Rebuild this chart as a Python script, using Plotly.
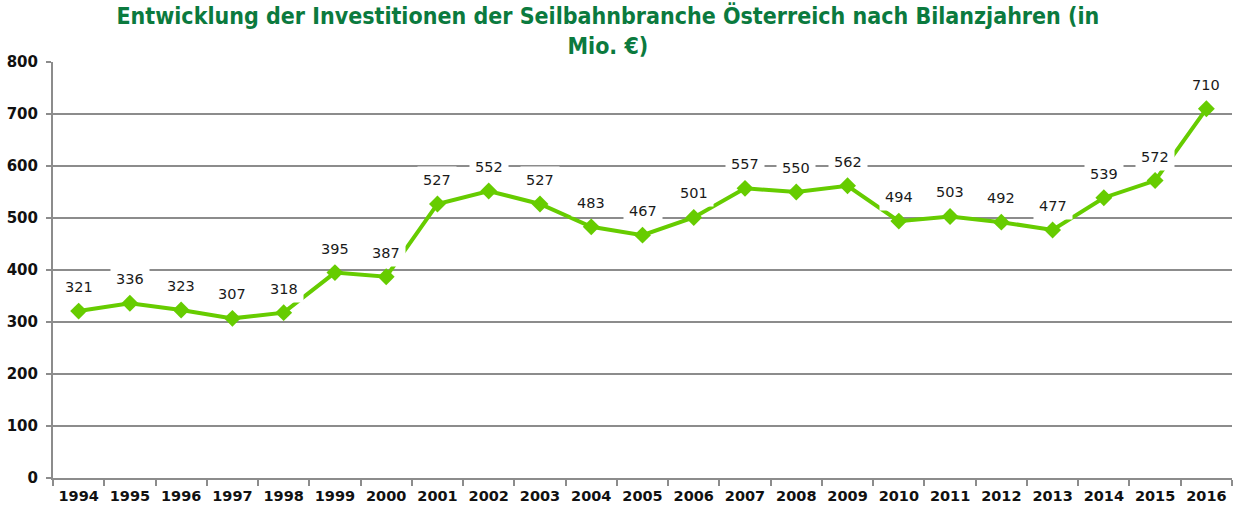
import plotly.graph_objects as go

years = [str(y) for y in range(1994, 2017)]
values = [321, 336, 323, 307, 318, 395, 387, 527, 552, 527, 483, 467, 501,
          557, 550, 562, 494, 503, 492, 477, 539, 572, 710]
y_ticks = [0, 100, 200, 300, 400, 500, 600, 700, 800]

title_text = "Entwicklung der Investitionen der Seilbahnbranche Österreich nach Bilanzjahren (in<br>Mio. €)"

green = "#66CC00"

fig = go.Figure()
fig.add_trace(go.Scatter(
    x=years, y=values, mode="lines+markers",
    line=dict(color=green, width=4),
    marker=dict(symbol="diamond", size=13, color=green),
    hoverinfo="x+y", showlegend=False,
))

annotations = []
for i, v in enumerate(values):
    annotations.append(dict(
        x=i, y=v, xref="x", yref="y", text=str(v), showarrow=False,
        yshift=24, bgcolor="white", borderpad=5,
        font=dict(family="DejaVu Sans, Verdana, sans-serif", size=14.5, color="#1a1a1a"),
    ))

fig.update_layout(
    width=1233, height=508,
    margin=dict(l=53, r=1, t=62, b=30),
    paper_bgcolor="white", plot_bgcolor="white",
    title=dict(
        text=title_text, x=0.493, xanchor="center", y=0.953, yanchor="top",
        font=dict(family="DejaVu Sans Condensed, DejaVu Sans, sans-serif", size=23, color="#0B7A3E", weight="bold"),
    ),
    annotations=annotations,
    xaxis=dict(
        type="category", showgrid=False, showline=True, linecolor="#8c8c8c", linewidth=2,
        ticks="outside", ticklen=6, tickcolor="#8c8c8c", tickwidth=2, tickson="boundaries",
        tickfont=dict(family="DejaVu Sans, Verdana, sans-serif", size=14.5, color="#111", weight="bold"),
        ticklabelstandoff=4,
        range=[-0.5, 22.5], fixedrange=True,
    ),
    yaxis=dict(
        range=[0, 800], tickvals=y_ticks, showgrid=True, gridcolor="#8c8c8c", gridwidth=2,
        showline=True, linecolor="#8c8c8c", linewidth=2, zeroline=False,
        ticks="outside", ticklen=5, tickcolor="#8c8c8c", tickwidth=2,
        tickfont=dict(family="DejaVu Sans, Verdana, sans-serif", size=15, color="#111", weight="bold"),
        ticklabelstandoff=5,
        fixedrange=True,
    ),
)

fig.write_html("out.html", config={"displayModeBar": False},
               post_script="document.body.style.margin='0px';")
